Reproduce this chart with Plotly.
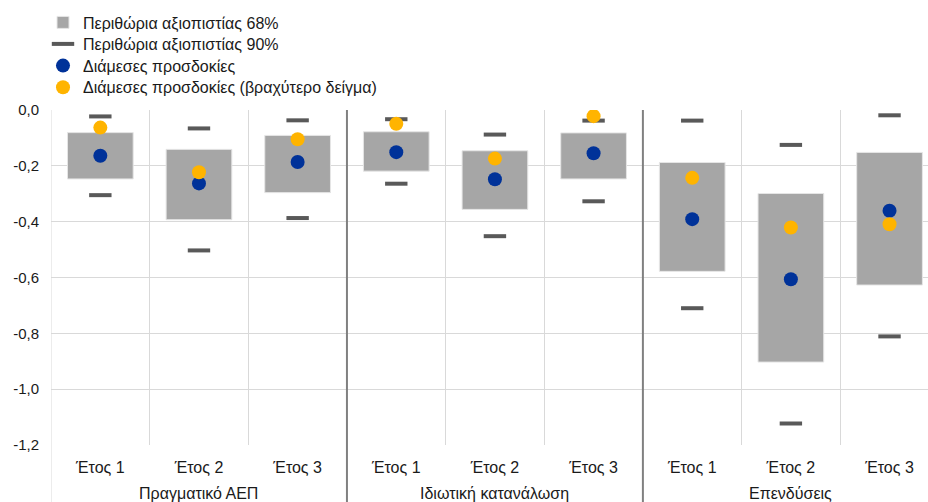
import plotly.graph_objects as go

# ---- data ----
categories = ["Έτος 1", "Έτος 2", "Έτος 3"] * 3
groups = ["Πραγματικό ΑΕΠ", "Ιδιωτική κατανάλωση", "Επενδύσεις"]

band68_upper = [-0.081, -0.141, -0.091, -0.078, -0.146, -0.082, -0.188, -0.299, -0.152]
band68_lower = [-0.247, -0.393, -0.296, -0.219, -0.356, -0.247, -0.578, -0.903, -0.627]
band90_upper = [-0.023, -0.066, -0.037, -0.033, -0.088, -0.038, -0.038, -0.125, -0.019]
band90_lower = [-0.305, -0.503, -0.387, -0.264, -0.452, -0.327, -0.710, -1.123, -0.811]
median = [-0.164, -0.263, -0.186, -0.151, -0.248, -0.155, -0.391, -0.606, -0.361]
median_short = [-0.063, -0.223, -0.105, -0.049, -0.174, -0.022, -0.243, -0.421, -0.409]

y_tickvals = [0, -0.2, -0.4, -0.6, -0.8, -1.0, -1.2]
y_ticktext = ["0,0", "-0,2", "-0,4", "-0,6", "-0,8", "-1,0", "-1,2"]

names = ["Περιθώρια αξιοπιστίας 68%", "Περιθώρια αξιοπιστίας 90%",
         "Διάμεσες προσδοκίες", "Διάμεσες προσδοκίες (βραχύτερο δείγμα)"]

pos = list(range(len(categories)))
FONT = "Arial, Liberation Sans, sans-serif"
TXT = "#1a1a1a"
W, H = 928, 502
L, R, T, B = 51, 0, 110, 57
PW, PH = W - L - R, H - T - B

fig = go.Figure()
fig.add_trace(go.Bar(
    x=pos, base=band68_lower,
    y=[u - l for u, l in zip(band68_upper, band68_lower)],
    width=0.666, marker=dict(color="#a6a6a6", line=dict(color="#e6e6e6", width=1)),
    name=names[0], legend="legend"))
fig.add_trace(go.Scatter(
    x=pos + pos, y=band90_upper + band90_lower, mode="markers",
    marker=dict(symbol="line-ew", size=16, line=dict(color="#595959", width=4)),
    name=names[1], legend="legend2"))
fig.add_trace(go.Scatter(
    x=pos, y=median, mode="markers",
    marker=dict(symbol="circle", size=14, color="#003299"), name=names[2],
    legend="legend3"))
fig.add_trace(go.Scatter(
    x=pos, y=median_short, mode="markers",
    marker=dict(symbol="circle", size=14, color="#ffb400"), name=names[3],
    legend="legend4"))

shapes = []
bottom_paper = -B / PH
shapes.append(dict(type="line", xref="x", yref="paper", x0=-0.5, x1=-0.5,
                   y0=bottom_paper, y1=1, line=dict(color="#d9d9d9", width=1)))
for b in [2.5, 5.5]:
    shapes.append(dict(type="line", xref="x", yref="paper", x0=b, x1=b,
                       y0=bottom_paper, y1=1, line=dict(color="#808080", width=2)))

annotations = []
for i, g in enumerate(groups):
    annotations.append(dict(text=g, x=3 * i + 1, xref="x", y=-48 / PH, yref="paper",
                            showarrow=False, yanchor="middle",
                            font=dict(family=FONT, size=16, color=TXT)))


def leg(yc):
    return dict(x=(43 - L) / PW, xanchor="left", xref="paper",
                y=1 + (T - yc) / PH, yref="paper", yanchor="middle",
                bgcolor="rgba(0,0,0,0)",
                font=dict(family=FONT, size=16, color=TXT))


fig.update_layout(
    width=W, height=H,
    margin=dict(l=L, r=R, t=T, b=B, autoexpand=False),
    paper_bgcolor="white", plot_bgcolor="white",
    barmode="overlay", showlegend=True,
    font=dict(family=FONT, size=16, color=TXT),
    legend=leg(22.5), legend2=leg(44), legend3=leg(65.7), legend4=leg(87.3),
    shapes=shapes, annotations=annotations,
)
fig.update_xaxes(
    range=[-0.5, 8.39], tickvals=pos, ticktext=categories, showgrid=False,
    zeroline=False, showline=False, ticks="", ticklabelstandoff=11,
    tickfont=dict(family=FONT, size=16, color=TXT),
    minor=dict(tickvals=[0.5, 1.5, 3.5, 4.5, 6.5, 7.5], showgrid=True,
               gridcolor="#d9d9d9", gridwidth=1, ticks=""),
)
fig.update_yaxes(
    range=[-1.2, 0], tickvals=y_tickvals, ticktext=y_ticktext, showgrid=True,
    gridcolor="#d9d9d9", gridwidth=1, zeroline=False, showline=False,
    ticks="", ticklabelstandoff=11, tickfont=dict(family=FONT, size=15, color=TXT),
)

fig.write_html("out.html", config={"displayModeBar": False},
               post_script="document.body.style.margin='0';")
